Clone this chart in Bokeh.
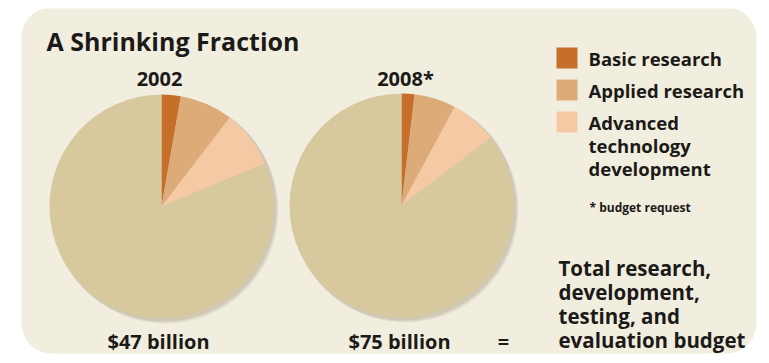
import numpy as np
from bokeh.plotting import figure
from bokeh.models import Range1d, ColumnDataSource
from bokeh.core.properties import value
from bokeh.embed import file_html
from bokeh.resources import INLINE

# ---------------- data ----------------
years = ["2002", "2008*"]
totals = ["$47 billion", "$75 billion"]
total_billions = [47, 75]
categories = ["Basic research", "Applied research", "Advanced technology development", "Other RDT&E"]
values_2002 = [1.3, 3.6, 3.9]   # billions
values_2008 = [1.4, 4.5, 5.1]   # billions
colors = ["#c66f2b", "#ddab78", "#f5c9a3", "#d8c89e"]
legend_lines = [["Basic research"], ["Applied research"], ["Advanced", "technology", "development"]]
footnote = "* budget request"
title = "A Shrinking Fraction"
total_label = ["Total research,", "development,", "testing, and", "evaluation budget"]

# ---------------- layout ----------------
W, H = 753, 347
FONT = "Open Sans"
INK = "#1c1a17"

def X(sx):
    return sx - 8

def Y(sy):
    return H - (sy - 8)

p = figure(width=W, height=H, output_backend="svg", toolbar_location=None,
           x_range=Range1d(0, W), y_range=Range1d(0, H), min_border=0)
p.axis.visible = False
p.grid.visible = False
p.outline_line_color = None
p.background_fill_color = "white"
p.border_fill_color = "white"

# card
p.quad(left=[X(21)], right=[X(756)], top=[Y(7)], bottom=[Y(353)],
       fill_color="#f1eee0", line_color=None, border_radius=30)

# pies
centers = [(161, 206), (401, 205)]
R = 112
for (cx, cy), vals, tot in zip(centers, [values_2002, values_2008], total_billions):
    shares = list(vals) + [tot - sum(vals)]
    fr = np.array(shares) / tot
    ends = np.cumsum(fr)
    starts = ends - fr
    # soft shadow
    for off, a in [(4, 0.10), (3, 0.12), (2, 0.15)]:
        p.circle(x=[X(cx) + off], y=[Y(cy) - off], radius=R + 1, fill_color="#8c8060",
                 fill_alpha=a, line_color=None)
    src = ColumnDataSource(dict(
        start=np.pi / 2 - starts * 2 * np.pi,
        end=np.pi / 2 - ends * 2 * np.pi,
        color=colors,
    ))
    p.wedge(x=X(cx), y=Y(cy), radius=R, start_angle="start", end_angle="end",
            direction="clock", fill_color="color", line_color=None, source=src)

# title
p.text(x=[X(46)], y=[Y(40)], text=[title], text_font=value(FONT), text_font_style="bold",
       text_font_size="25px", text_color=INK, text_baseline="middle", text_align="left")

# year labels
p.text(x=[X(159), X(405)], y=[Y(78), Y(78)], text=years, text_font=value(FONT),
       text_font_style="bold", text_font_size="20px", text_color=INK,
       text_baseline="middle", text_align="center")

# totals
p.text(x=[X(158), X(399)], y=[Y(341), Y(341)], text=totals, text_font=value(FONT),
       text_font_style="bold", text_font_size="20px", text_color=INK,
       text_baseline="middle", text_align="center")
p.text(x=[X(503)], y=[Y(341)], text=["="], text_font=value(FONT),
       text_font_style="bold", text_font_size="20px", text_color=INK,
       text_baseline="middle", text_align="center")

# legend
sq_tops = [47, 79, 111]
for i, top in enumerate(sq_tops):
    p.quad(left=[X(556)], right=[X(577)], top=[Y(top)], bottom=[Y(top + 21)],
           fill_color=colors[i], line_color=None)
leg_y = [[58], [90], [122, 145, 168]]
for lines, ys in zip(legend_lines, leg_y):
    p.text(x=[X(588)] * len(lines), y=[Y(v) for v in ys], text=lines, text_font=value(FONT),
           text_font_style="bold", text_font_size="18.5px", text_color=INK,
           text_baseline="middle", text_align="left")
p.text(x=[X(589)], y=[Y(207)], text=[footnote], text_font=value(FONT),
       text_font_style="bold", text_font_size="12px", text_color=INK,
       text_baseline="middle", text_align="left")

# total label
p.text(x=[X(558)] * 4, y=[Y(v) for v in [267, 291, 315, 339]], text=total_label,
       text_font=value(FONT), text_font_style="bold", text_font_size="20.5px",
       text_color=INK, text_baseline="middle", text_align="left")

html = file_html(p, INLINE)
html = html.replace("<body>", '<body style="margin:8px;background:white;">')
open("out.html", "w").write(html)
